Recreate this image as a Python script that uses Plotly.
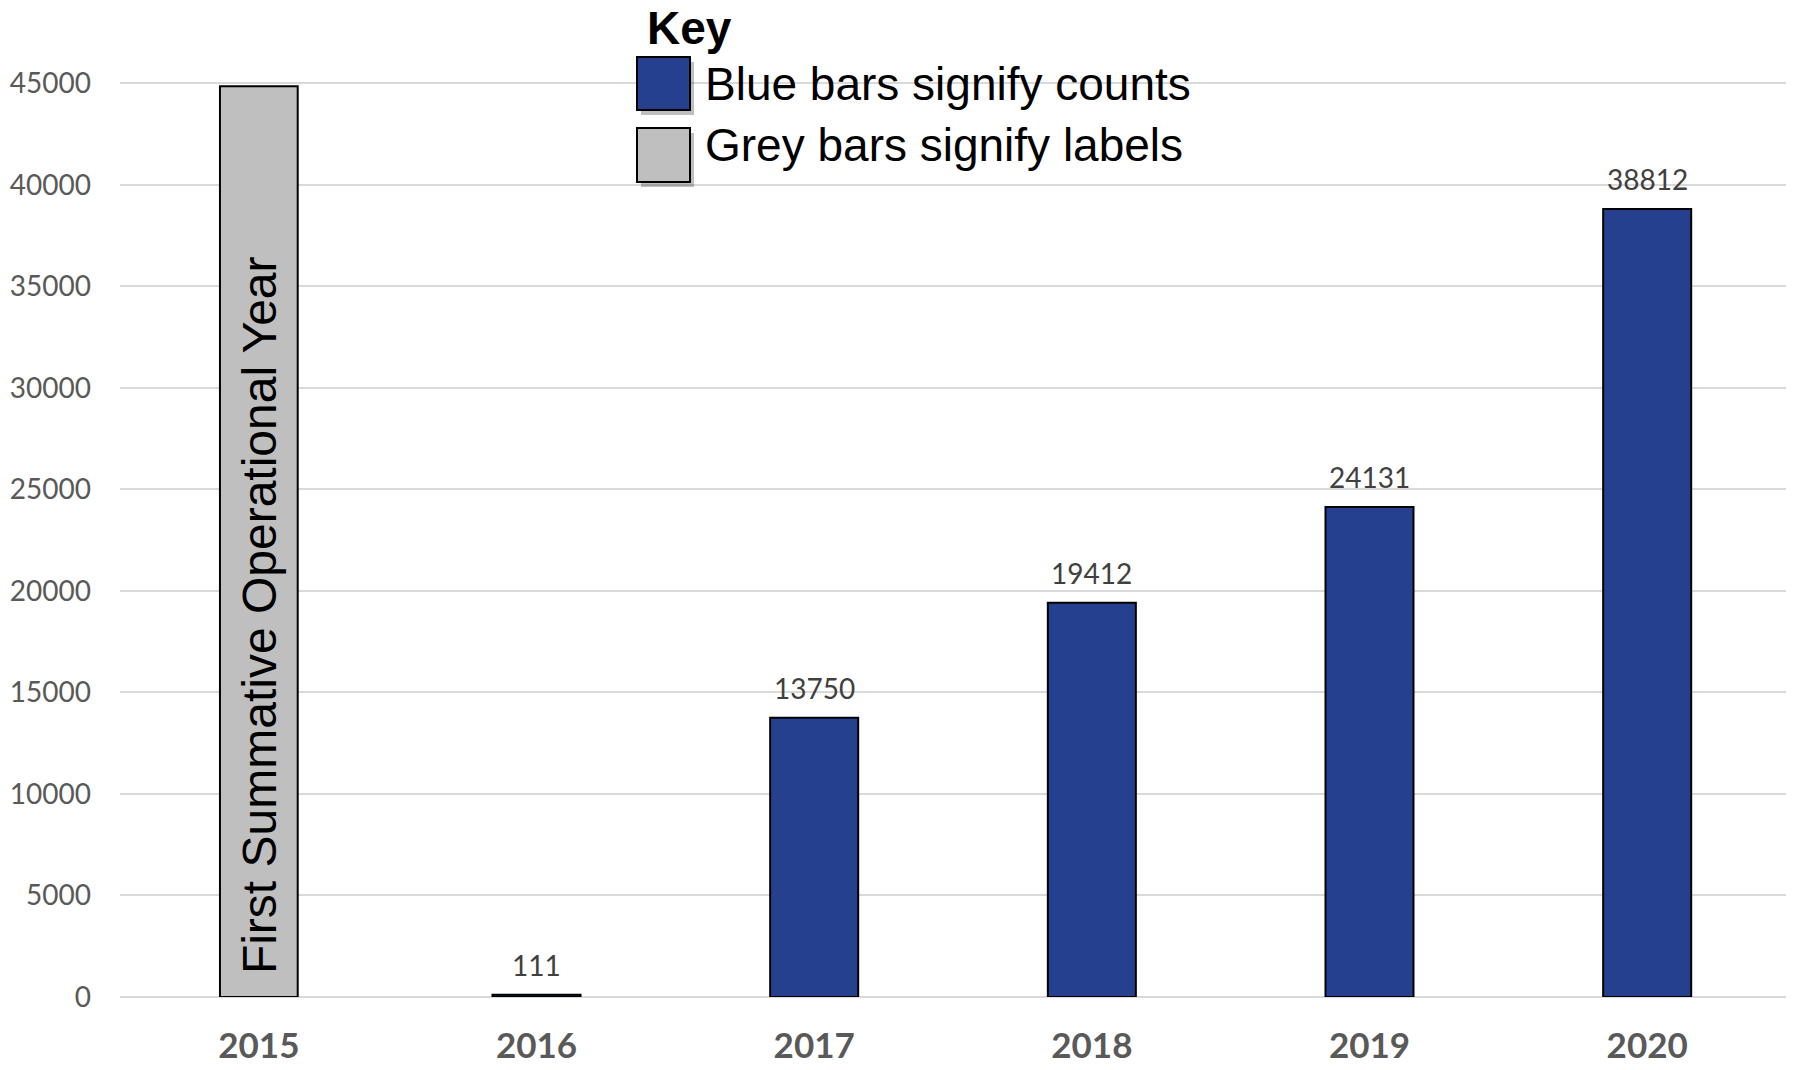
import plotly.graph_objects as go

years = ["2015", "2016", "2017", "2018", "2019", "2020"]
count_years = ["2016", "2017", "2018", "2019", "2020"]
counts = [111, 13750, 19412, 24131, 38812]
label_years = ["2015"]
label_heights = [44850]
label_text = "First Summative Operational Year"
y_ticks = [0, 5000, 10000, 15000, 20000, 25000, 30000, 35000, 40000, 45000]

W, H = 1798, 1070
ML, MR, MT, MB = 120, 12, 63, 73
PW, PH = W - ML - MR, H - MT - MB


def px(x):
    return (x - ML) / PW


def py(y):
    return (H - MB - y) / PH


BLUE = "#25408F"
GREY = "#BFBFBF"

fig = go.Figure()
fig.add_trace(go.Bar(
    x=label_years, y=label_heights, width=0.28,
    marker=dict(color=GREY, line=dict(color="black", width=2)),
    hoverinfo="skip", showlegend=False,
))
fig.add_trace(go.Bar(
    x=count_years, y=counts, width=0.317,
    marker=dict(color=BLUE, line=dict(color="black", width=2)),
    showlegend=False,
))

annotations = []
for yr, v in zip(count_years, counts):
    annotations.append(dict(
        x=years.index(yr), y=v, xref="x", yref="y", text=str(v), showarrow=False,
        yshift=30, font=dict(family="Lato", size=28, color="#404040"),
    ))

annotations.append(dict(
    x=years.index(label_years[0]), y=18800, xref="x", yref="y", text=label_text,
    showarrow=False, textangle=-90,
    font=dict(family="Liberation Sans, Arial", size=48, color="black"),
))

# key
annotations.append(dict(
    x=px(645), y=py(28), xref="paper", yref="paper", text="<b>Key</b>",
    showarrow=False, xanchor="left", yanchor="middle",
    font=dict(family="Liberation Sans, Arial", size=46, color="black"),
))
annotations.append(dict(
    x=px(703), y=py(84), xref="paper", yref="paper", text="Blue bars signify counts",
    showarrow=False, xanchor="left", yanchor="middle",
    font=dict(family="Liberation Sans, Arial", size=46, color="black"),
))
annotations.append(dict(
    x=px(703), y=py(145), xref="paper", yref="paper", text="Grey bars signify labels",
    showarrow=False, xanchor="left", yanchor="middle",
    font=dict(family="Liberation Sans, Arial", size=46, color="black"),
))

shapes = []
for (y0, y1, col) in [(57, 110, BLUE), (128, 182, GREY)]:
    shapes.append(dict(
        type="rect", xref="paper", yref="paper",
        x0=px(637 + 4), x1=px(690 + 4), y0=py(y1 + 5), y1=py(y0 + 5),
        fillcolor="rgba(0,0,0,0.25)", line=dict(width=0), layer="above",
    ))
    shapes.append(dict(
        type="rect", xref="paper", yref="paper",
        x0=px(637), x1=px(690), y0=py(y1), y1=py(y0),
        fillcolor=col, line=dict(color="black", width=2), layer="above",
    ))

fig.update_layout(
    width=W, height=H,
    margin=dict(l=ML, r=MR, t=MT, b=MB, autoexpand=False),
    paper_bgcolor="white", plot_bgcolor="white",
    barmode="overlay",
    annotations=annotations,
    shapes=shapes,
    xaxis=dict(
        type="category", automargin=False,
        categoryorder="array", categoryarray=years,
        range=[-0.5, len(years) - 0.5], autorange=False,
        tickfont=dict(family="Lato", size=35, color="#595959", weight="bold"),
        showgrid=False, showline=False, ticks="", ticklabelstandoff=25,
    ),
    yaxis=dict(
        range=[0, 46000], autorange=False, automargin=False,
        tickvals=y_ticks, ticktext=[str(t) for t in y_ticks],
        tickfont=dict(family="Lato", size=28, color="#595959"),
        showgrid=True, gridcolor="#D9D9D9", gridwidth=2,
        zeroline=True, zerolinecolor="#D9D9D9", zerolinewidth=2,
        showline=False, ticks="", ticklabelstandoff=28,
    ),
)

fig.write_html(
    "out.html",
    config={"displayModeBar": False},
    post_script="document.body.style.margin='0';document.body.style.overflow='hidden';",
)
